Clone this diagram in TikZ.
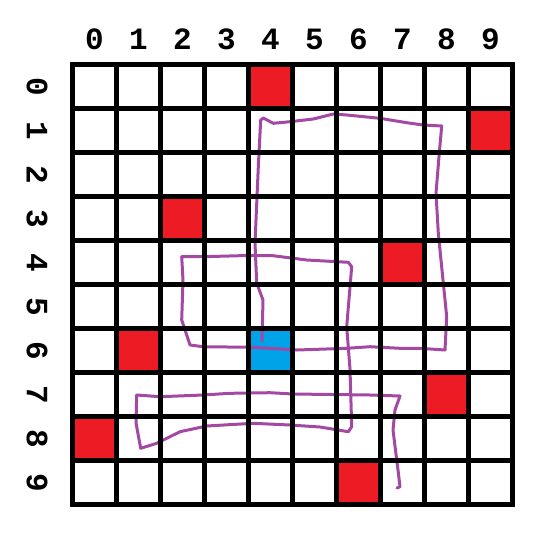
\documentclass[tikz,border=0pt]{standalone}
\usepackage{fontspec}
\newfontfamily\labfont{Liberation Mono}
\definecolor{cellred}{HTML}{ED1C24}
\definecolor{cellblue}{HTML}{00A2E8}
\definecolor{pathpurple}{HTML}{A349A4}
\begin{document}
\begin{tikzpicture}[x=1pt,y=-1pt,
  gridline/.style={line width=5pt,black},
  redcell/.style={fill=cellred},
  bluecell/.style={fill=cellblue},
  lab/.style={font=\labfont\bfseries\fontsize{31}{31}\selectfont,inner sep=0pt},
  trail/.style={draw=pathpurple,line width=3pt,line join=round,line cap=round}]
\useasboundingbox (0,0) rectangle (560,550);
% cells
\foreach \r/\c in {0/4,1/9,3/2,4/7,6/1,7/8,8/0,9/6}
  \fill[redcell] (72.5+44*\c,64.5+44*\r) rectangle ++(44,44);
\fill[bluecell] (72.5+44*4,64.5+44*6) rectangle ++(44,44);
% path
\draw[trail] (262,341) -- (263,300) -- (256.7,283) -- (255,243) -- (258.3,167) -- (260.7,120) -- (263.3,118) -- (273.3,123.3) -- (290,121.7) -- (313.3,119) -- (333.3,114) -- (346.7,115) -- (380,118.3) -- (406.7,122.7) -- (423.3,125) -- (441.7,126) -- (439.3,153) -- (436,193) -- (438.3,233) -- (443.3,283) -- (446.7,316.7) -- (445,350) -- (420,348.3) -- (400,348.3) -- (370,346.7) -- (346.7,348.3) -- (296.7,350) -- (253,347.3) -- (203,346.7) -- (190,345) -- (181.7,320) -- (183,280) -- (181.7,256.7) -- (203,256.7) -- (240,255.7) -- (273,255.7) -- (306.7,260) -- (348.3,262.3) -- (351.7,266.7) -- (346.7,326.7) -- (350,369) -- (351.7,426.7) -- (348.3,431.7) -- (320,427) -- (290,425) -- (253,423.3) -- (206.7,426) -- (180,431.7) -- (156.7,443.3) -- (140.7,448.3) -- (136,423) -- (136.7,395) -- (160,396.7) -- (203,395) -- (230,393.3) -- (270,392.7) -- (293,394) -- (370,395) -- (400,396) -- (395,410) -- (393,430) -- (398,470) -- (400,486.7) -- (397,488);
% grid
\foreach \i in {1,...,9} {
  \draw[gridline] (72.5+44*\i,64.5) -- (72.5+44*\i,504.5);
  \draw[gridline] (72.5,64.5+44*\i) -- (512.5,64.5+44*\i);
}
\draw[gridline,line join=miter] (72.5,64.5) rectangle (512.5,504.5);
% labels
\foreach \i in {0,...,9} {
  \node[lab] (col\i) at (94.5+44*\i,39) {\i};
  \node[lab,rotate=-90] (row\i) at (37,86.5+44*\i) {\i};
}
\end{tikzpicture}
\end{document}
